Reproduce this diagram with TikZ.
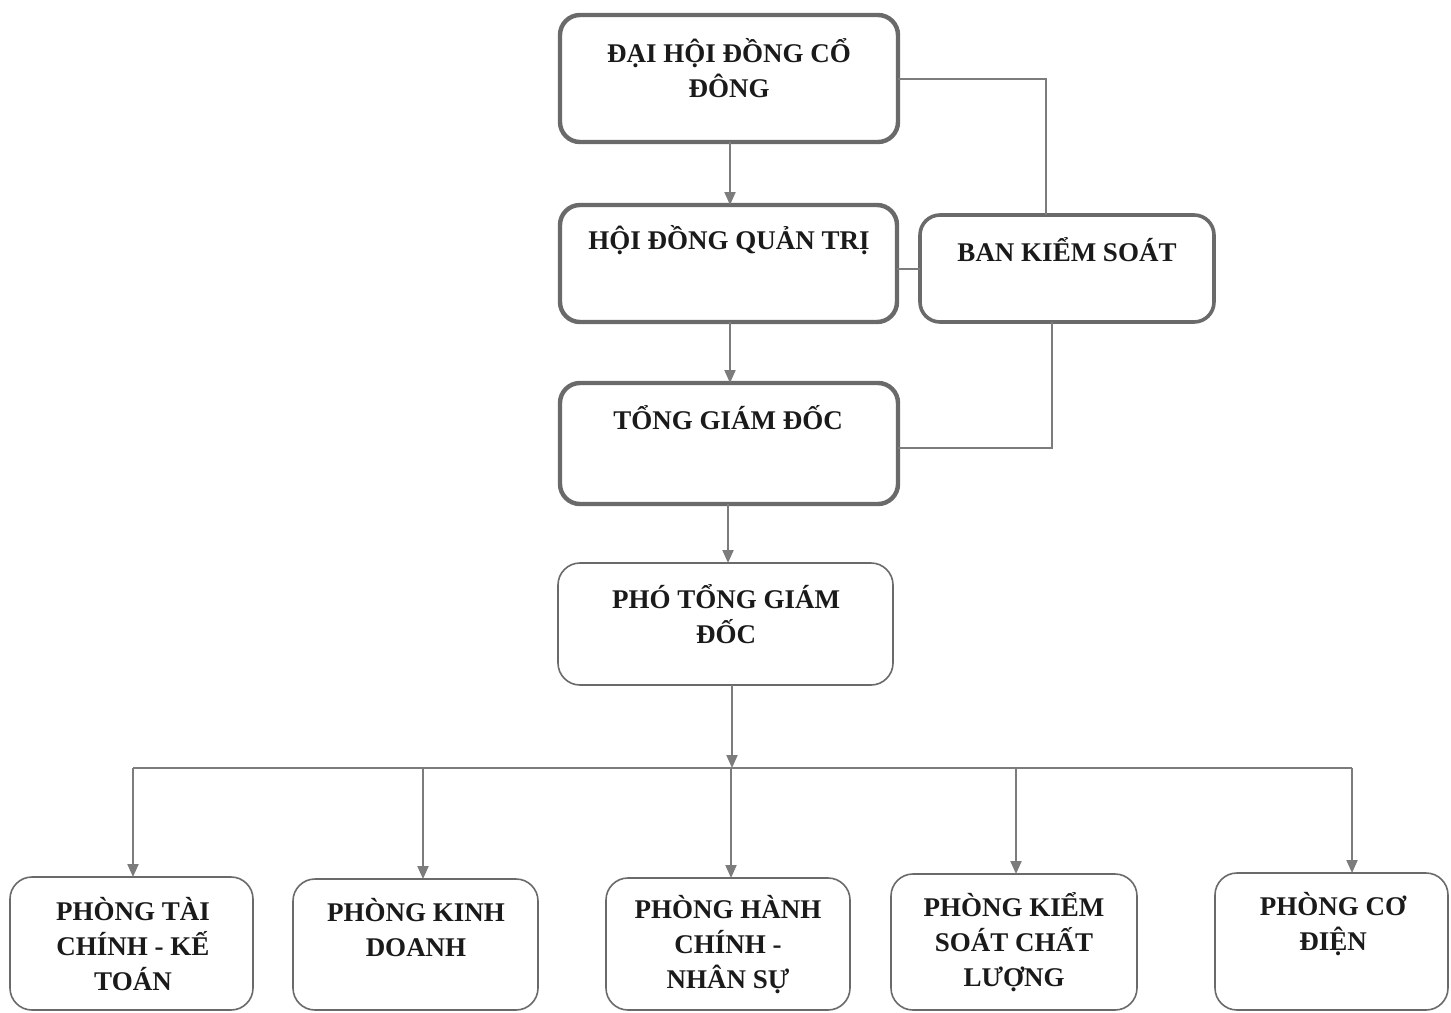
\documentclass[tikz,border=0pt]{standalone}
\usepackage{fontspec}
\setmainfont{Liberation Serif}
\usetikzlibrary{arrows.meta}
\definecolor{bordergray}{HTML}{6A6A6A}
\definecolor{linegray}{HTML}{7C7C7C}
\definecolor{txt}{HTML}{1A1A1A}
\begin{document}
\begin{tikzpicture}[x=0.5pt,y=-0.5pt,
  boxbase/.style={draw=bordergray, fill=white, rounded corners=10pt, inner sep=0pt, outer sep=0pt},
  thickbox/.style={boxbase, line width=2.2pt},
  midbox/.style={boxbase, line width=1.8pt},
  thinbox/.style={boxbase, line width=0.8pt, rounded corners=11pt},
  lbl/.style={font=\bfseries\fontsize{13.5}{17.5}\selectfont, text=txt, align=center, inner sep=0pt},
  plainline/.style={draw=linegray, line width=1pt},
  conn/.style={plainline, -{Triangle[width=5.5pt,length=6.5pt,fill=linegray]}}
]
\useasboundingbox (0,0) rectangle (1451,1012);
\fill[white] (0,0) rectangle (1451,1012);

% boxes
\node[thickbox, minimum width=169pt, minimum height=63.5pt] (dhdcd) at (729,78.5) {};
\node[thickbox, minimum width=168.5pt, minimum height=58.5pt] (hdqt) at (728.5,263.5) {};
\node[midbox, minimum width=147pt, minimum height=53.5pt] (bks) at (1067,268.5) {};
\node[thickbox, minimum width=169pt, minimum height=60.5pt] (tgd) at (729,443.5) {};
\node[thinbox, minimum width=167.5pt, minimum height=61pt] (ptgd) at (725.5,624) {};
\node[thinbox, minimum width=121.5pt, minimum height=66.5pt] (b1) at (131.5,943.5) {};
\node[thinbox, minimum width=122.5pt, minimum height=65.5pt] (b2) at (415.5,944.5) {};
\node[thinbox, minimum width=122pt, minimum height=66pt] (b3) at (728,944) {};
\node[thinbox, minimum width=123pt, minimum height=68pt] (b4) at (1014,942) {};
\node[thinbox, minimum width=116.5pt, minimum height=68.5pt] (b5) at (1331.5,941.5) {};

% labels
\node[lbl] (t1) at (729,68) {ĐẠI HỘI ĐỒNG CỔ\\ĐÔNG};
\node[lbl] (t2) at (729,240) {HỘI ĐỒNG QUẢN TRỊ};
\node[lbl] (t3) at (1067,250) {BAN KIỂM SOÁT};
\node[lbl] (t4) at (728,418) {TỔNG GIÁM ĐỐC};
\node[lbl] (t5) at (726,614) {PHÓ TỔNG GIÁM\\ĐỐC};
\node[lbl] (t6) at (133,944) {PHÒNG TÀI\\CHÍNH - KẾ\\TOÁN};
\node[lbl] (t7) at (416,928) {PHÒNG KINH\\DOANH};
\node[lbl] (t8) at (728,945) {PHÒNG HÀNH\\CHÍNH -\\NHÂN SỰ};
\node[lbl] (t9) at (1014,942) {PHÒNG KIỂM\\SOÁT CHẤT\\LƯỢNG};
\node[lbl] (t10) at (1333,924) {PHÒNG CƠ\\ĐIỆN};

% helper coordinates
\coordinate (x730) at (730,0);
\coordinate (x728) at (728,0);
\coordinate (bus) at (732,768);
\coordinate (busL) at (133,768);
\coordinate (busR) at (1352,768);
\coordinate (x423) at (423,0);
\coordinate (x731) at (731,0);
\coordinate (x1016) at (1016,0);
\coordinate (k1046) at (1046,0);
\coordinate (k1052) at (1052,448);

% vertical chain
\draw[conn] (x730 |- dhdcd.south) -- (x730 |- hdqt.north);
\draw[conn] (x730 |- hdqt.south) -- (x730 |- tgd.north);
\draw[conn] (x728 |- tgd.south) -- (x728 |- ptgd.north);
\draw[conn] (bus |- ptgd.south) -- (bus);

% bus
\draw[plainline] (busL) -- (busR);
\draw[conn] (busL) -- (busL |- b1.north);
\draw[conn] (x423 |- bus) -- (x423 |- b2.north);
\draw[conn] (x731 |- bus) -- (x731 |- b3.north);
\draw[conn] (x1016 |- bus) -- (x1016 |- b4.north);
\draw[conn] (busR) -- (busR |- b5.north);

% supervisory board links
\draw[plainline] (dhdcd.east) -| (k1046 |- bks.north);
\draw[plainline] (bks.west -| hdqt.east) -- (bks.west);
\draw[plainline] (k1052 |- bks.south) -- (k1052) -- (k1052 -| tgd.east);
\end{tikzpicture}
\end{document}
